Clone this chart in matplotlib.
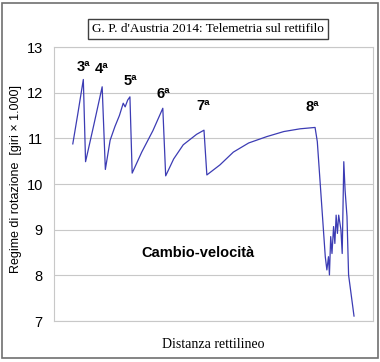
import matplotlib.pyplot as plt
from matplotlib.patches import Rectangle

plt.rcParams['font.family'] = ['Liberation Sans', 'DejaVu Sans']

# distance along the straight (arbitrary units, 0-100) and rpm (x 1000)
dist = [5.9, 7.5, 9.2, 9.9, 12.5, 15.1, 16.1, 17.6, 19.1, 20.5, 21.7, 22.3, 23.1, 23.8,
        24.5, 27.5, 31.0, 34.1, 35.0, 37.5, 40.5, 44.7, 47.0, 47.9, 52.0, 56.2, 61.0,
        66.7, 72.0, 77.1, 81.8, 82.5, 85.0, 85.5, 86.0, 86.3, 86.7, 87.1, 87.6, 88.0,
        88.4, 88.8, 89.2, 89.9, 90.3, 90.8, 91.2, 91.8, 92.3, 94.0]
rpm = [10.88, 11.55, 12.29, 10.49, 11.30, 12.13, 10.32, 10.96, 11.26, 11.50, 11.77, 11.69,
       11.84, 11.91, 10.24, 10.70, 11.17, 11.66, 10.18, 10.55, 10.86, 11.09, 11.18, 10.20,
       10.42, 10.70, 10.90, 11.04, 11.15, 11.21, 11.24, 10.93, 8.41, 8.12, 8.41, 8.01,
       8.85, 8.48, 9.07, 8.70, 9.32, 8.92, 9.32, 9.00, 8.48, 10.49, 9.87, 9.29, 8.01, 7.11]

gears = ["3ª", "4ª", "5ª", "6ª", "7ª", "8ª"]
gear_x = [9.2, 15.0, 23.8, 34.2, 46.8, 80.9]
gear_y = [12.56, 12.51, 12.25, 11.97, 11.71, 11.69]

fig = plt.figure(figsize=(3.8, 3.62), dpi=100)
ax = fig.add_axes([0.142, 0.113, 0.84, 0.757])

ax.plot(dist, rpm, color="#3c3cb4", lw=0.9)

ax.set_xlim(0, 100)
ax.set_ylim(7, 13)
ax.set_yticks(range(7, 14))
ax.set_xticks([])
ax.grid(axis="y", color="#c8c8c8", lw=0.8)
ax.tick_params(axis="y", length=0, labelsize=10.5, pad=8)
for s in ax.spines.values():
    s.set_color("#c8c8c8")

for g, x, y in zip(gears, gear_x, gear_y):
    ax.text(x, y, g, ha="center", va="center", fontsize=10.5, fontweight="bold")
ax.text(45, 8.5, "Cambio-velocità", ha="center", va="center", fontsize=10.5, fontweight="bold")

ax.set_ylabel("Regime di rotazione  [giri × 1.000]", fontsize=9, va="center")
ax.yaxis.set_label_coords(-0.119, 0.52)
ax.set_xlabel("Distanza rettilineo", fontsize=10, family="Liberation Serif", labelpad=12)

fig.text(0.547, 0.92, "G. P. d'Austria 2014: Telemetria sul rettifilo", ha="center", va="center",
         fontsize=9.5, family="Liberation Serif",
         bbox=dict(boxstyle="square,pad=0.3", fc="white", ec="#404040", lw=1))

fig.patches.append(Rectangle((0.005, 0.012), 0.99, 0.98, transform=fig.transFigure,
                             fill=False, ec="#707070", lw=1.2))

fig.savefig("out.png", dpi=100)
